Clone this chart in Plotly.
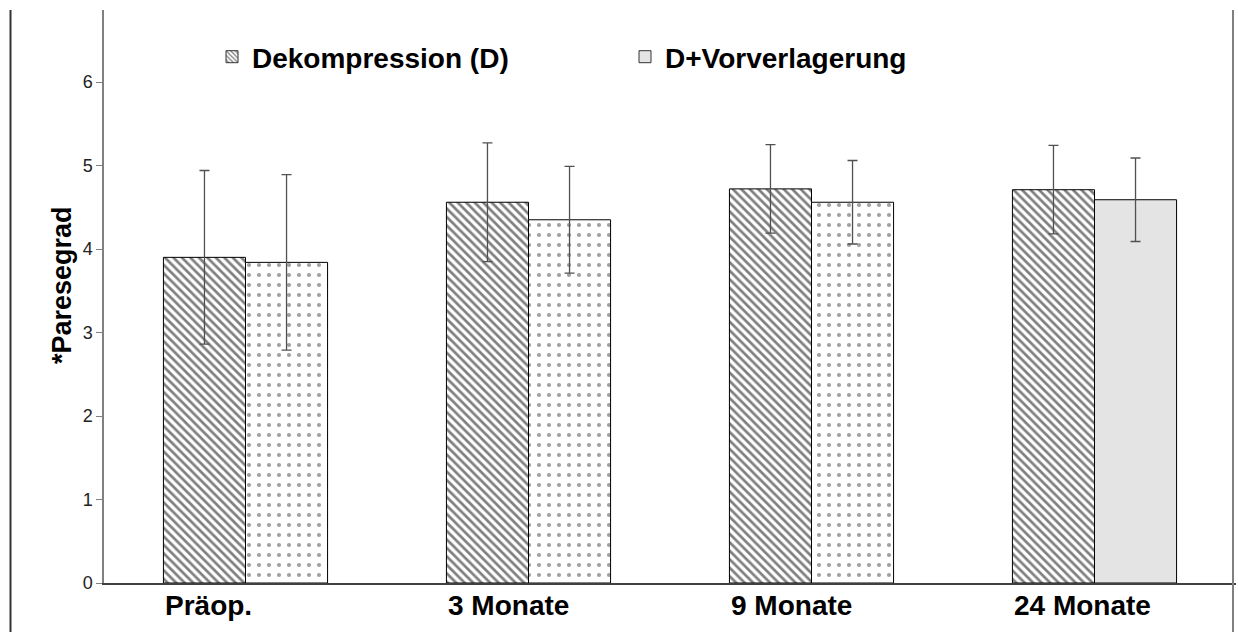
import plotly.graph_objects as go

categories = ["Präop.", "3 Monate", "9 Monate", "24 Monate"]
dekompression = [3.90, 4.56, 4.72, 4.71]
dekompression_sd = [1.04, 0.71, 0.53, 0.53]
vorverlagerung = [3.84, 4.35, 4.56, 4.59]
vorverlagerung_sd = [1.05, 0.64, 0.50, 0.50]
y_ticks = [0, 1, 2, 3, 4, 5, 6]

W, H = 1238, 632
ML, MR, MT, MB = 104, 2, 10, 49
PW = W - ML - MR
PH = H - MT - MB
FONT = "Liberation Sans, Arial, sans-serif"
BAR_W = 0.29


def px_x(px):
    return (px - ML) / PW


def px_y(py):
    return (H - MB - py) / PH


fig = go.Figure()

err_style = dict(type="data", thickness=1.3, width=5, color="#505050")

fig.add_trace(go.Bar(
    x=categories, y=dekompression, name="Dekompression (D)",
    width=BAR_W, offset=-BAR_W,
    error_y=dict(array=dekompression_sd, **err_style),
    marker=dict(color="white", line=dict(color="black", width=1),
                pattern=dict(shape="\\", fgcolor="black", size=6,
                             solidity=0.45, fillmode="overlay")),
    showlegend=False,
))
fig.add_trace(go.Bar(
    x=categories, y=vorverlagerung, name="D+Vorverlagerung",
    width=BAR_W, offset=0,
    error_y=dict(array=vorverlagerung_sd, **err_style),
    marker=dict(color=["white", "white", "white", "#e4e4e4"],
                line=dict(color="black", width=1),
                pattern=dict(shape=[".", ".", ".", ""], fgcolor="#111",
                             size=10, solidity=0.14, fillmode="overlay")),
    showlegend=False,
))

# legend entries
fig.add_trace(go.Bar(
    x=[categories[0]], y=[None], name="Dekompression (D)", legend="legend",
    marker=dict(color="white", line=dict(color="#333", width=1),
                pattern=dict(shape="\\", fgcolor="black", size=4,
                             solidity=0.4, fillmode="overlay")),
    showlegend=True,
))
fig.add_trace(go.Bar(
    x=[categories[0]], y=[None], name="D+Vorverlagerung", legend="legend2",
    marker=dict(color="#e4e4e4", line=dict(color="#333", width=1)),
    showlegend=True,
))

legend_font = dict(family=FONT, size=28, color="black", weight="bold")
fig.update_layout(
    legend=dict(x=px_x(212), y=px_y(57), xanchor="left", yanchor="middle",
                font=legend_font, bgcolor="rgba(0,0,0,0)", itemwidth=30),
    legend2=dict(x=px_x(625), y=px_y(57), xanchor="left", yanchor="middle",
                 font=legend_font, bgcolor="rgba(0,0,0,0)", itemwidth=30),
)

fig.update_layout(
    width=W, height=H,
    margin=dict(l=ML, r=MR, t=MT, b=MB, pad=0),
    paper_bgcolor="white", plot_bgcolor="white",
    barmode="overlay",
    xaxis=dict(
        range=[-0.5, 3.5], showgrid=False, zeroline=False,
        showline=True, linecolor="#404040", linewidth=1.5,
        ticks="", showticklabels=False,
    ),
    yaxis=dict(
        range=[0, PH / 83.5], tickvals=y_ticks, showgrid=False, zeroline=False,
        showline=True, linecolor="#808080", linewidth=1.5,
        ticks="outside", ticklen=6, tickcolor="#808080", tickwidth=1,
        tickfont=dict(family=FONT, size=18, color="#222"),
    ),
    showlegend=True,
)

# category labels, left-aligned with the first bar of each group
for i, cat in enumerate(categories):
    fig.add_annotation(
        text=cat, xref="x", yref="paper", x=i - BAR_W, y=px_y(605),
        xanchor="left", yanchor="middle", showarrow=False,
        font=dict(family=FONT, size=28, color="black", weight="bold"),
    )

fig.add_annotation(
    text="*Paresegrad", xref="paper", yref="paper",
    x=px_x(45), y=px_y(285), textangle=-90, showarrow=False,
    font=dict(family=FONT, size=27, color="black", weight="bold"),
)

# outer frame side rules
for fx, col in ((10.5, "#333"), (1233, "#808080")):
    fig.add_shape(type="line", xref="paper", yref="paper",
                  x0=px_x(fx), x1=px_x(fx), y0=px_y(10), y1=px_y(H),
                  line=dict(color=col, width=2))

fig.write_html("out.html")
